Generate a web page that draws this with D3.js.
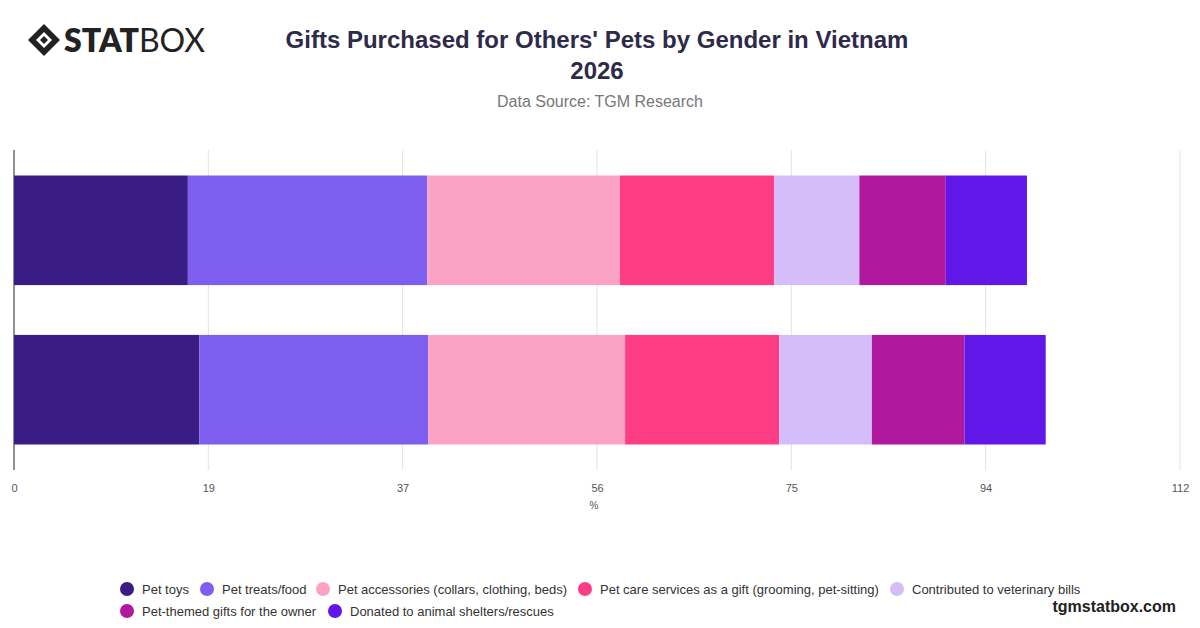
<!DOCTYPE html>
<html><head><meta charset="utf-8">
<script src="https://cdn.jsdelivr.net/npm/d3@7"></script>
<style>body{margin:0;background:#fff;font-family:"Liberation Sans",Arial,sans-serif}</style>
</head><body><svg id="c" width="1200" height="628"></svg>
<script>
const categories = ["Male","Female"];
const series = ["Pet toys","Pet treats/food","Pet accessories (collars, clothing, beds)","Pet care services as a gift (grooming, pet-sitting)","Contributed to veterinary bills","Pet-themed gifts for the owner","Donated to animal shelters/rescues"];
const colors = ["#391c84","#7e5eef","#fba3c4","#ff3d84","#d4bdf8","#b0189d","#6017e8"];
const values = [
  [16.7,17.8],
  [23.0,22.0],
  [18.5,18.9],
  [14.8,14.8],
  [8.2,8.9],
  [8.3,8.9],
  [7.8,7.8]
];
const tickValues = [0,18.67,37.33,56,74.67,93.33,112];
const tickLabels = ["0","19","37","56","75","94","112"];
const svg = d3.select("#c");
const x = d3.scaleLinear().domain([0,112]).range([14,1180]);
const y = d3.scaleBand().domain(categories).range([150,470]).paddingInner(0.3125).paddingOuter(0.16);
svg.append("g").selectAll("line").data(tickValues).join("line")
 .attr("x1",d=>x(d)).attr("x2",d=>x(d)).attr("y1",150).attr("y2",470).attr("stroke","#e3e3e3");
svg.append("line").attr("x1",14).attr("x2",14).attr("y1",150).attr("y2",470).attr("stroke","#333");
categories.forEach((c,ci)=>{
  let acc=0;
  series.forEach((s,si)=>{
    const v=values[si][ci];
    svg.append("rect").attr("x",x(acc)).attr("width",x(acc+v)-x(acc)).attr("y",y(c)).attr("height",y.bandwidth()).attr("fill",colors[si]);
    acc+=v;
  });
});
const ax = svg.append("g").attr("transform","translate(0,470)").call(d3.axisBottom(x).tickValues(tickValues).tickFormat((d,i)=>tickLabels[i]).tickSize(0).tickPadding(14));
ax.select(".domain").remove();
ax.selectAll("text").attr("font-size",11).attr("fill","#555").attr("font-family","Liberation Sans");
svg.append("text").attr("x",594).attr("y",509).attr("text-anchor","middle").attr("font-size",10).attr("fill","#555").text("%");
svg.append("text").attr("x",597).attr("y",48).attr("text-anchor","middle").attr("font-size",24).attr("font-weight",700).attr("fill","#2e2a4a").text("Gifts Purchased for Others' Pets by Gender in Vietnam");
svg.append("text").attr("x",597).attr("y",79).attr("text-anchor","middle").attr("font-size",24).attr("font-weight",700).attr("fill","#2e2a4a").text("2026");
svg.append("text").attr("x",600).attr("y",107).attr("text-anchor","middle").attr("font-size",16).attr("fill","#777").text("Data Source: TGM Research");
const lg=svg.append("g").attr("transform","translate(44,40)");
lg.append("path").attr("d","M0,-16 L16,0 L0,16 L-16,0 Z").attr("fill","#222");
lg.append("path").attr("d","M0,-8 L8,0 L0,8 L-8,0 Z").attr("fill","#fff");
lg.append("path").attr("d","M0,-4 L4,0 L0,4 L-4,0 Z").attr("fill","#222");
svg.append("text").attr("x",64).attr("y",52).attr("font-size",32).attr("font-weight",800).attr("fill","#222").attr("font-family","Lato").text("STAT").append("tspan").attr("font-weight",400).text("BOX");
const rows=[[0,1,2,3,4],[5,6]];
const lx=[[120,200,316,578,890],[120,328]];
rows.forEach((r,ri)=>r.forEach((si,k)=>{
  const g=svg.append("g").attr("transform",`translate(${lx[ri][k]},${589+ri*22})`);
  g.append("circle").attr("cx",7).attr("cy",0).attr("r",7).attr("fill",colors[si]);
  g.append("text").attr("x",22).attr("y",4.5).attr("font-size",13).attr("fill","#333").text(series[si]);
}));
svg.append("text").attr("x",1176).attr("y",612).attr("text-anchor","end").attr("font-size",16).attr("font-weight",700).attr("fill","#222").text("tgmstatbox.com");
</script></body></html>
